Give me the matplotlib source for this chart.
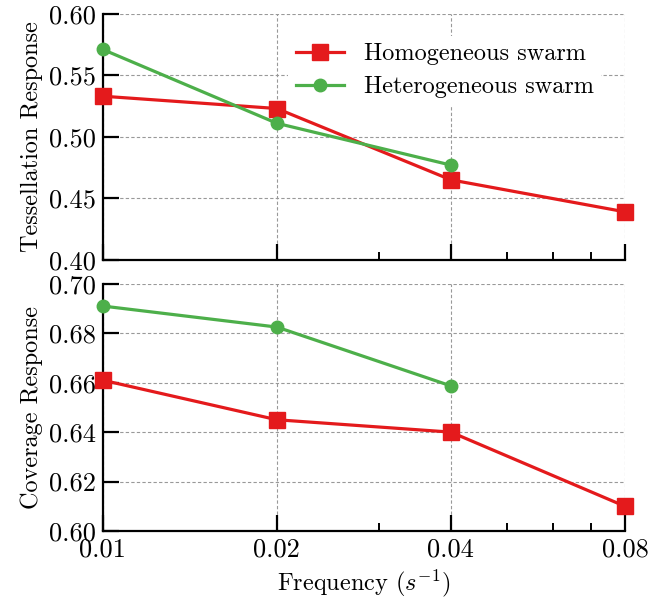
import matplotlib
matplotlib.use("Agg")
import matplotlib.pyplot as plt
from matplotlib.ticker import FixedLocator, FixedFormatter, NullFormatter

plt.rcParams['font.family'] = 'serif'
plt.rcParams['font.serif'] = ['cmr10']
plt.rcParams['mathtext.fontset'] = 'cm'
plt.rcParams['axes.formatter.use_mathtext'] = True

# data
freq = [0.01, 0.02, 0.04, 0.08]
freq_het = [0.01, 0.02, 0.04]
tess_hom = [0.533, 0.523, 0.465, 0.439]
tess_het = [0.571, 0.511, 0.477]
cov_hom = [0.661, 0.645, 0.640, 0.610]
cov_het = [0.691, 0.6825, 0.6587]

xticks = [0.01, 0.02, 0.04, 0.08]
xticklabels = ['0.01', '0.02', '0.04', '0.08']
xminor = [0.03, 0.05, 0.06, 0.07]

red = '#e41a1c'
green = '#4daf4a'

fig = plt.figure(figsize=(6.72, 6.0), dpi=100)
ax1 = fig.add_axes([0.153, 0.567, 0.777, 0.410])
ax2 = fig.add_axes([0.153, 0.115, 0.777, 0.412])

def style(ax, ylim, yticks):
    ax.set_xscale('log')
    ax.set_xlim(0.01, 0.08)
    ax.set_ylim(*ylim)
    ax.set_yticks(yticks)
    ax.xaxis.set_major_locator(FixedLocator(xticks))
    ax.xaxis.set_major_formatter(FixedFormatter(xticklabels))
    ax.xaxis.set_minor_locator(FixedLocator(xminor))
    ax.xaxis.set_minor_formatter(NullFormatter())
    for s in ['top', 'right']:
        ax.spines[s].set_visible(False)
    for s in ['left', 'bottom']:
        ax.spines[s].set_linewidth(1.6)
    ax.tick_params(which='major', direction='in', length=11.5, width=1.6, labelsize=19, pad=5)
    ax.tick_params(which='minor', direction='in', length=5.5, width=1.4)
    ax.grid(True, which='major', linestyle=(0, (3, 2)), color='#999999', linewidth=0.8)
    ax.set_axisbelow(True)

# top panel
ax1.plot(freq, tess_hom, color=red, lw=2.3, marker='s', ms=11, label='Homogeneous swarm', clip_on=False, zorder=3)
ax1.plot(freq_het, tess_het, color=green, lw=2.3, marker='o', ms=9, label='Heterogeneous swarm', clip_on=False, zorder=3)
style(ax1, (0.40, 0.60), [0.40, 0.45, 0.50, 0.55, 0.60])
ax1.set_yticklabels(['0.40', '0.45', '0.50', '0.55', '0.60'])
ax1.tick_params(axis='x', labelbottom=False)
ax1.set_ylabel('Tessellation Response', fontsize=17.5, labelpad=4)
leg = ax1.legend(loc='upper left', frameon=True, fontsize=17.5, handlelength=2.0,
                 handletextpad=0.8, labelspacing=0.45, borderpad=0.3,
                 bbox_to_anchor=(0.332, 0.96))
leg.get_frame().set_facecolor('white')
leg.get_frame().set_edgecolor('none')
leg.get_frame().set_alpha(1.0)

# bottom panel
ax2.plot(freq, cov_hom, color=red, lw=2.3, marker='s', ms=11, clip_on=False, zorder=3)
ax2.plot(freq_het, cov_het, color=green, lw=2.3, marker='o', ms=9, clip_on=False, zorder=3)
style(ax2, (0.60, 0.70), [0.60, 0.62, 0.64, 0.66, 0.68, 0.70])
ax2.set_yticklabels(['0.60', '0.62', '0.64', '0.66', '0.68', '0.70'])
ax2.set_ylabel('Coverage Response', fontsize=17.5, labelpad=4)
ax2.set_xlabel('Frequency ($s^{-1}$)', fontsize=17.5, labelpad=4)

fig.savefig('out.png', dpi=100)
